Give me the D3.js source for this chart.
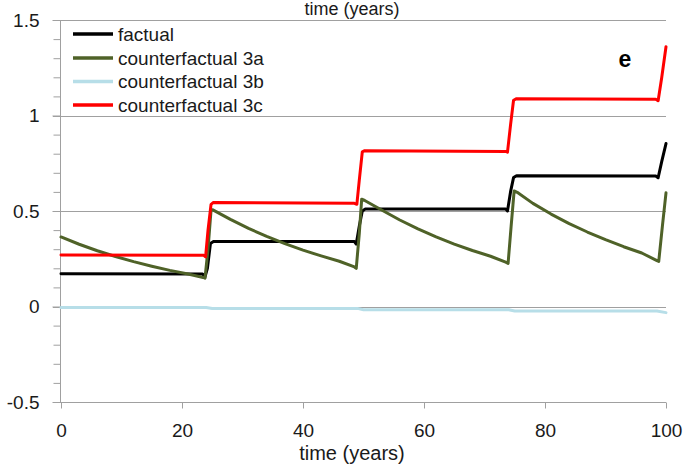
<!DOCTYPE html>
<html>
<head>
<meta charset="utf-8">
<script src="https://cdn.jsdelivr.net/npm/d3@7"></script>
<style>
  html, body { margin: 0; padding: 0; background: #fff; }
  svg { display: block; font-family: "Liberation Sans", Arial, sans-serif; }
</style>
</head>
<body>
<svg id="chart" width="699" height="465"></svg>
<script>
// ---- data ----
const xTicks = [0, 20, 40, 60, 80, 100];
const yTicks = [-0.5, 0, 0.5, 1, 1.5];
const yTickLabels = ["-0.5", "0", "0.5", "1", "1.5"];
const yMinorTicks = [-0.4,-0.3,-0.2,-0.1,0.1,0.2,0.3,0.4,0.6,0.7,0.8,0.9,1.1,1.2,1.3,1.4];
const seriesNames = ["factual", "counterfactual 3a", "counterfactual 3b", "counterfactual 3c"];
const seriesColors = ["#000000", "#4f6228", "#b7dee8", "#ff0000"];

const factual = [[0,0.172],[23.4,0.17],[23.8,0.155],[24.2,0.2],[24.7,0.33],[25.2,0.34],[48.5,0.34],[48.8,0.327],[49.3,0.42],[49.8,0.5],[50.3,0.51],[73.5,0.51],[73.8,0.5],[74.3,0.6],[74.8,0.675],[75.3,0.685],[98.3,0.683],[98.7,0.674],[99.3,0.76],[100,0.853]];
const cf3a = [[0,0.364],[3,0.326],[6,0.292],[9,0.262],[12,0.235],[15,0.211],[18,0.189],[21,0.17],[23.5,0.152],[23.8,0.148],[24.3,0.3],[24.8,0.505],[25.1,0.506],[28,0.456],[31,0.409],[34,0.367],[37,0.329],[40,0.295],[43,0.265],[46,0.237],[48.5,0.207],[48.8,0.2],[49.3,0.38],[49.7,0.562],[50.2,0.555],[53,0.505],[56,0.453],[59,0.406],[62,0.364],[65,0.327],[68,0.293],[71,0.263],[73.5,0.232],[73.9,0.226],[74.4,0.42],[74.9,0.605],[75.4,0.598],[78,0.54],[81,0.484],[84,0.434],[87,0.39],[90,0.35],[93,0.313],[96,0.28],[98.5,0.24],[98.8,0.236],[99.4,0.42],[100,0.595]];
const cf3b = [[0,-0.005],[24,-0.005],[25,-0.01],[49,-0.01],[50,-0.017],[74,-0.017],[75,-0.024],[98.5,-0.024],[100,-0.032]];
const cf3c = [[0,0.27],[23.6,0.268],[23.9,0.26],[24.3,0.4],[24.8,0.535],[25.2,0.545],[48.5,0.54],[48.9,0.535],[49.3,0.66],[49.8,0.81],[50.2,0.816],[73.5,0.812],[73.8,0.808],[74.3,0.95],[74.8,1.08],[75.3,1.088],[98.3,1.085],[98.7,1.077],[99.3,1.2],[100,1.36]];
const seriesData = [factual, cf3a, cf3b, cf3c];

// ---- layout ----
const svg = d3.select("#chart");
const x = d3.scaleLinear().domain([0, 100]).range([61, 666]);
const y = d3.scaleLinear().domain([-0.5, 1.5]).range([402, 20]);
const gridColor = "#a0a0a0";
const textColor = "#1a1a1a";

// gridlines (major)
svg.append("g").selectAll("line").data(yTicks).join("line")
  .attr("x1", 53).attr("x2", x(100))
  .attr("y1", d => Math.round(y(d)) + 0.5).attr("y2", d => Math.round(y(d)) + 0.5)
  .attr("stroke", gridColor).attr("stroke-width", 1);

// y axis
const yAxis = svg.append("g").attr("transform", "translate(60.5,0)")
  .call(d3.axisLeft(y).tickValues(yTicks).tickSize(8).tickPadding(13)
    .tickFormat((d, i) => yTickLabels[i]));
yAxis.select(".domain").remove();
yAxis.selectAll("line").attr("stroke", gridColor);
yAxis.selectAll("text").attr("font-size", 19).attr("fill", textColor);

const yMinor = svg.append("g").attr("transform", "translate(60.5,0)")
  .call(d3.axisLeft(y).tickValues(yMinorTicks).tickSize(7).tickFormat(""));
yMinor.select(".domain").remove();
yMinor.selectAll("line").attr("stroke", gridColor);

svg.append("line").attr("x1", 60.5).attr("x2", 60.5).attr("y1", y(1.5)).attr("y2", y(-0.5))
  .attr("stroke", gridColor);

// x axis
const xAxis = svg.append("g").attr("transform", `translate(0,${Math.round(y(-0.5)) + 0.5})`)
  .call(d3.axisBottom(x).tickValues(xTicks).tickSize(6).tickPadding(15).tickFormat(d3.format("")));
xAxis.select(".domain").remove();
xAxis.selectAll("line").attr("stroke", gridColor);
xAxis.selectAll("text").attr("font-size", 19).attr("fill", textColor);

// axis titles
svg.append("text").attr("x", 352).attr("y", 460).attr("text-anchor", "middle")
  .attr("font-size", 20).attr("fill", textColor).text("time (years)");
svg.append("text").attr("x", 352).attr("y", 15).attr("text-anchor", "middle")
  .attr("font-size", 18).attr("fill", textColor).text("time (years)");

// panel label
svg.append("text").attr("x", 625).attr("y", 67).attr("text-anchor", "middle")
  .attr("font-size", 23).attr("font-weight", "bold").attr("fill", "#000").text("e");

// series lines
const line = d3.line().x(d => x(d[0])).y(d => y(d[1])).curve(d3.curveLinear);
const drawOrder = [0, 1, 2, 3];
svg.append("g").selectAll("path").data(drawOrder).join("path")
  .attr("d", i => line(seriesData[i]))
  .attr("fill", "none")
  .attr("stroke", i => seriesColors[i])
  .attr("stroke-width", 3)
  .attr("stroke-linejoin", "round")
  .attr("stroke-linecap", "round");

// legend
const legendY = [34, 58, 81.5, 105];
const leg = svg.append("g");
leg.selectAll("line").data(seriesNames).join("line")
  .attr("x1", 73).attr("x2", 113)
  .attr("y1", (d, i) => legendY[i]).attr("y2", (d, i) => legendY[i])
  .attr("stroke", (d, i) => seriesColors[i]).attr("stroke-width", 3.5);
leg.selectAll("text").data(seriesNames).join("text")
  .attr("x", 118).attr("y", (d, i) => legendY[i] + 6.5)
  .attr("font-size", 19).attr("fill", textColor).text(d => d);
</script>
</body>
</html>
